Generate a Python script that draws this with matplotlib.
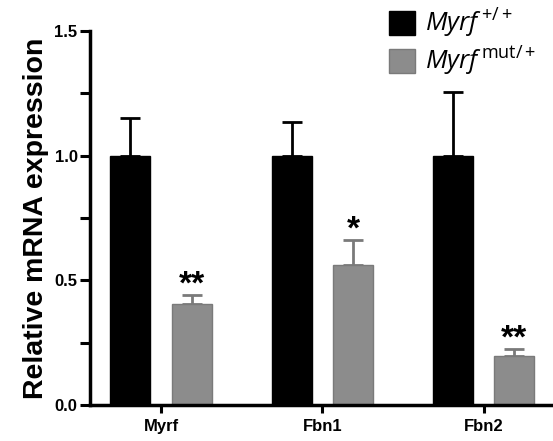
import numpy as np
import matplotlib
matplotlib.use('Agg')
import matplotlib.pyplot as plt
from matplotlib.ticker import MultipleLocator, FormatStrFormatter
from matplotlib.patches import Patch

plt.rcParams['font.family'] = ['Liberation Sans', 'DejaVu Sans']
plt.rcParams['mathtext.fontset'] = 'custom'
plt.rcParams['mathtext.it'] = 'Open Sans:italic'
plt.rcParams['mathtext.rm'] = 'Open Sans'

genes = ['Myrf', 'Fbn1', 'Fbn2']
wt_mean = [1.0, 1.0, 1.0]
wt_err = [0.152, 0.134, 0.255]
mut_mean = [0.405, 0.56, 0.195]
mut_err = [0.037, 0.10, 0.028]
stars = ['**', '*', '**']
labels = [r'$\mathit{Myrf}^{\,\mathrm{+/+}}$', r'$\mathit{Myrf}^{\,\mathrm{mut/+}}$']

black = '#000000'
gray = '#8c8c8c'
gray_edge = '#7a7a7a'

fig = plt.figure(figsize=(5.53, 4.41), dpi=100)
ax = fig.add_axes([90 / 553, 1 - 405 / 441, 1 - 90 / 553, (405 - 31) / 441])

x = np.arange(len(genes))
w = 0.248
off = 0.19

ax.bar(x - off, wt_mean, w, color=black, edgecolor=black, linewidth=1, zorder=2)
ax.bar(x + off, mut_mean, w, color=gray, edgecolor=gray_edge, linewidth=1, zorder=2)
ax.errorbar(x - off, wt_mean, yerr=[np.zeros(3), wt_err], fmt='none', ecolor=black,
            elinewidth=2, capsize=7.5, capthick=2, zorder=1)
ax.errorbar(x + off, mut_mean, yerr=[np.zeros(3), mut_err], fmt='none', ecolor=gray_edge,
            elinewidth=2, capsize=7.5, capthick=2, zorder=1)

for i in range(len(genes)):
    ax.annotate(stars[i], (x[i] + off, mut_mean[i] + mut_err[i]), xytext=(0, -4),
                textcoords='offset points', ha='center', va='bottom',
                fontsize=24, fontweight='bold')

ax.set_xlim(-0.44, 2.43)
ax.set_ylim(0, 1.5)
ax.set_xticks(x)
ax.set_xticklabels(genes, fontweight='bold', fontsize=12)
ax.yaxis.set_major_locator(MultipleLocator(0.5))
ax.yaxis.set_minor_locator(MultipleLocator(0.25))
ax.yaxis.set_major_formatter(FormatStrFormatter('%.1f'))
for t in ax.get_yticklabels():
    t.set_fontweight('bold')
    t.set_fontsize(12)
ax.tick_params(axis='y', which='both', width=2.2, length=7, direction='out', pad=2)
ax.tick_params(axis='x', width=2.2, length=6, pad=4)

for s in ['top', 'right']:
    ax.spines[s].set_visible(False)
for s in ['left', 'bottom']:
    ax.spines[s].set_linewidth(2.5)

ax.set_ylabel('Relative mRNA expression', fontsize=20.5, fontweight='bold', labelpad=4)

handles = [Patch(facecolor=black, edgecolor=black),
           Patch(facecolor=gray, edgecolor=gray_edge)]
fig.legend(handles, labels, loc='upper left', bbox_to_anchor=(379 / 553, 1.008),
           frameon=False, fontsize=18.5, handlelength=1.0, handleheight=1.05,
           handletextpad=0.4, labelspacing=0.2, borderaxespad=0)

fig.savefig('out.png', dpi=100)
